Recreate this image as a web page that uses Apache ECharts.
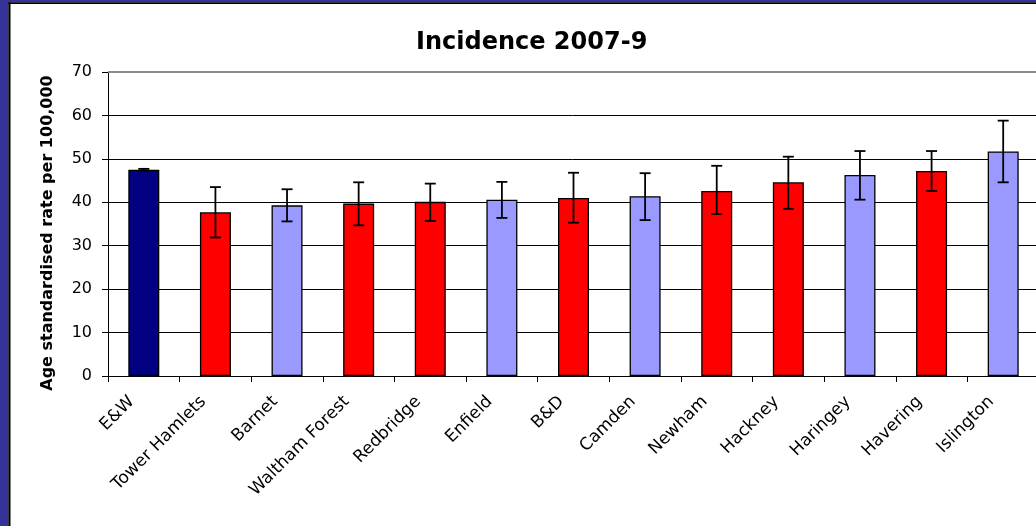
<!DOCTYPE html>
<html>
<head>
<meta charset="utf-8">
<script src="https://cdn.jsdelivr.net/npm/echarts@6/dist/echarts.min.js"></script>
<style>
  html, body { margin: 0; padding: 0; background: #ffffff; }
  #chart { width: 1036px; height: 526px; }
</style>
</head>
<body>
<div id="chart"></div>
<script>
// Age standardised incidence rate per 100,000, 2007-9, with 95% confidence limits
const categories = ['E&W', 'Tower Hamlets', 'Barnet', 'Waltham Forest', 'Redbridge', 'Enfield',
  'B&D', 'Camden', 'Newham', 'Hackney', 'Haringey', 'Havering', 'Islington'];
const rates   = [47.5, 37.7, 39.3, 39.7, 40.1, 40.6, 41.0, 41.4, 42.6, 44.6, 46.3, 47.2, 51.7];
const ciLower = [47.3, 31.9, 35.6, 34.7, 35.7, 36.4, 35.3, 35.9, 37.3, 38.5, 40.6, 42.6, 44.6];
const ciUpper = [47.7, 43.5, 43.0, 44.6, 44.3, 44.7, 46.8, 46.7, 48.4, 50.5, 51.8, 51.8, 58.8];
const barGroup = ['national', 'red', 'blue', 'red', 'red', 'blue', 'red', 'blue', 'red', 'red', 'blue', 'red', 'blue'];
const yTicks = [0, 10, 20, 30, 40, 50, 60, 70];

const groupColours = { national: '#000080', red: '#ff0000', blue: '#9999ff' };
const FONT = 'DejaVu Sans';

const chart = echarts.init(document.getElementById('chart'), null, { renderer: 'canvas' });

const barData = rates.map((v, i) => ({
  value: v,
  itemStyle: { color: groupColours[barGroup[i]] }
}));
const errorData = categories.map((c, i) => [i, ciLower[i], ciUpper[i]]);

// gridlines are black, the top edge of the plot area is grey
const splitColours = yTicks.map((t, i) => (i === yTicks.length - 1 ? '#8c8c8c' : '#000000'));

chart.setOption({
  backgroundColor: '#ffffff',
  animation: false,
  title: {
    text: 'Incidence 2007-9',
    left: 416,
    top: 31,
    padding: 0,
    textStyle: { fontFamily: FONT, fontWeight: 'bold', fontSize: 24, color: '#000000' }
  },
  graphic: [
    // slide frame: blue band with a thin black inner edge
    { type: 'rect', shape: { x: 0, y: 0, width: 8.3, height: 526 }, style: { fill: '#333399' }, z: 100 },
    { type: 'rect', shape: { x: 0, y: 0, width: 1036, height: 2.3 }, style: { fill: '#333399' }, z: 100 },
    { type: 'rect', shape: { x: 8.3, y: 2.3, width: 2.2, height: 524 }, style: { fill: '#000000' }, z: 100 },
    { type: 'rect', shape: { x: 8.3, y: 2.3, width: 1028, height: 1.6 }, style: { fill: '#000000' }, z: 100 },
    // grey top edge of the plot area
    { type: 'line', shape: { x1: 108, y1: 72, x2: 1036, y2: 72 }, style: { stroke: '#8c8c8c', lineWidth: 2 }, z: 1 },
    {
      type: 'text',
      x: 48, y: 233,
      rotation: Math.PI / 2,
      style: {
        text: 'Age standardised rate per 100,000',
        fontFamily: FONT, fontWeight: 'bold', fontSize: 16, fill: '#000000',
        align: 'center', verticalAlign: 'middle'
      }
    }
  ],
  grid: { left: 108, right: -3, top: 72, bottom: 150, outerBoundsMode: 'none' },
  xAxis: {
    type: 'category',
    data: categories,
    boundaryGap: true,
    axisLine: { lineStyle: { color: '#000000', width: 1 } },
    axisTick: { show: true, alignWithLabel: false, length: 6, lineStyle: { color: '#000000' } },
    axisLabel: {
      interval: 0, rotate: 45, margin: 11, padding: [0, 17, 0, 0],
      fontFamily: FONT, fontSize: 17, color: '#000000'
    },
    splitLine: { show: false }
  },
  yAxis: {
    type: 'value',
    min: yTicks[0],
    max: yTicks[yTicks.length - 1],
    interval: yTicks[1] - yTicks[0],
    axisLine: { show: true, lineStyle: { color: '#000000', width: 1 } },
    axisTick: { show: true, length: 6, lineStyle: { color: '#000000' } },
    axisLabel: { margin: 16, fontFamily: FONT, fontSize: 16, color: '#000000' },
    splitLine: { show: true, lineStyle: { color: splitColours, width: 1 } }
  },
  series: [
    {
      type: 'bar',
      data: barData,
      barWidth: 31,
      itemStyle: { borderColor: '#000000', borderWidth: 1.3 },
      z: 2
    },
    {
      type: 'custom',
      data: errorData,
      z: 3,
      renderItem: function (params, api) {
        const idx = api.value(0);
        const hi = api.coord([idx, api.value(2)]);
        const lo = api.coord([idx, api.value(1)]);
        const hw = 5.5;
        const st = { stroke: '#000000', lineWidth: 1.8 };
        return {
          type: 'group',
          children: [
            { type: 'line', shape: { x1: hi[0], y1: hi[1], x2: lo[0], y2: lo[1] }, style: st },
            { type: 'line', shape: { x1: hi[0] - hw, y1: hi[1], x2: hi[0] + hw, y2: hi[1] }, style: st },
            { type: 'line', shape: { x1: lo[0] - hw, y1: lo[1], x2: lo[0] + hw, y2: lo[1] }, style: st }
          ]
        };
      }
    }
  ]
});
</script>
</body>
</html>
